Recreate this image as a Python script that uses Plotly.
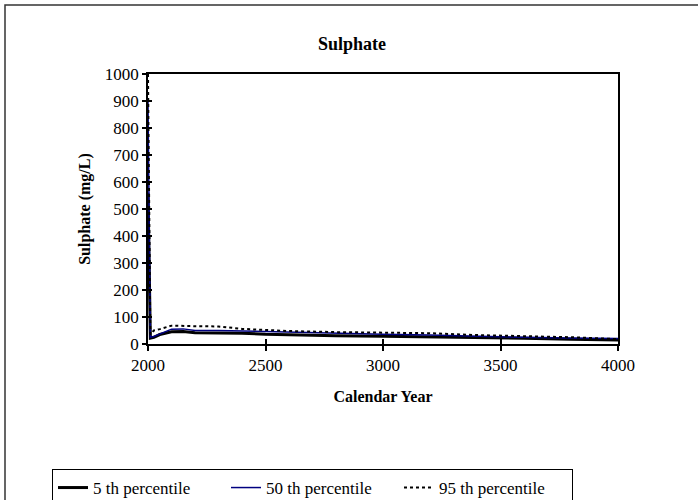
import plotly.graph_objects as go

# Simulated sulphate concentration percentiles over time
years = [2000, 2010, 2025, 2050, 2100, 2150, 2200, 2300, 2400, 2500,
         2600, 2800, 3000, 3200, 3400, 3600, 3800, 4000]
p5 = [560, 22, 25, 35, 45, 46, 42, 41, 40, 36,
      34, 31, 29, 27, 24, 21, 18, 15]
p50 = [900, 25, 28, 38, 55, 56, 50, 50, 48, 45,
       42, 40, 36, 33, 28, 25, 22, 20]
p95 = [1000, 35, 50, 55, 68, 68, 66, 65, 56, 52,
       48, 44, 42, 40, 33, 30, 25, 18]

series_names = ["5 th percentile", "50 th percentile", "95 th percentile"]
x_ticks = [2000, 2500, 3000, 3500, 4000]
y_ticks = list(range(0, 1001, 100))

FONT = "Liberation Serif"
W, H = 698, 500
L, R, T, B = 148, 80, 74, 156
PW, PH = W - L - R, H - T - B


def px_to_paper_x(px):
    return (px - L) / PW


def px_to_paper_y(py):
    return (H - B - py) / PH


fig = go.Figure()
fig.add_trace(go.Scatter(x=years, y=p5, mode="lines", name=series_names[0],
                         line=dict(color="black", width=3)))
fig.add_trace(go.Scatter(x=years, y=p50, mode="lines", name=series_names[1],
                         line=dict(color="#000080", width=1.5)))
fig.add_trace(go.Scatter(x=years, y=p95, mode="lines", name=series_names[2],
                         line=dict(color="black", width=2, dash="3px,3px")))

fig.update_layout(
    width=W, height=H,
    margin=dict(l=L, r=R, t=T, b=B, autoexpand=False),
    paper_bgcolor="white", plot_bgcolor="white",
    font=dict(family=FONT, color="black", size=17),
    title=dict(text="<b>Sulphate</b>", x=px_to_paper_x(352), xref="paper",
               xanchor="center", y=1 - 44 / H, yanchor="middle",
               font=dict(family=FONT, size=18, color="black")),
    xaxis=dict(range=[2000, 4000], tickvals=x_ticks, ticks="outside",
               ticklen=5, tickwidth=1.5, tickcolor="black",
               showline=True, linecolor="black", linewidth=2, mirror=True,
               showgrid=False, zeroline=False,
               tickfont=dict(size=17),
               title=dict(text="<b>Calendar Year</b>", standoff=16,
                          font=dict(size=16))),
    yaxis=dict(range=[0, 1000], tickvals=y_ticks, ticks="outside",
               ticklen=4, tickwidth=1.5, tickcolor="black",
               showline=True, linecolor="black", linewidth=1.5, mirror=True,
               showgrid=False, zeroline=False,
               tickfont=dict(size=17),
               title=dict(text="<b>Sulphate (mg/L)</b>", standoff=10,
                          font=dict(size=16))),
    # inside half of the crossing tick marks
    xaxis2=dict(overlaying="x", range=[2000, 4000], tickvals=x_ticks,
                ticks="inside", ticklen=5, tickwidth=1.5, tickcolor="black",
                showticklabels=False, showgrid=False, zeroline=False,
                showline=False),
    yaxis2=dict(overlaying="y", range=[0, 1000], tickvals=y_ticks,
                ticks="inside", ticklen=4, tickwidth=1.5, tickcolor="black",
                showticklabels=False, showgrid=False, zeroline=False,
                showline=False),
    showlegend=True,
    legend=dict(orientation="h", xref="paper", yref="paper",
                x=px_to_paper_x(52), xanchor="left",
                y=px_to_paper_y(469), yanchor="top",
                bordercolor="black", borderwidth=1, bgcolor="white",
                entrywidth=128, entrywidthmode="pixels",
                font=dict(family=FONT, size=17, color="black")),
    shapes=[dict(type="rect", xref="paper", yref="paper",
                 x0=px_to_paper_x(5), x1=px_to_paper_x(705),
                 y0=px_to_paper_y(510), y1=px_to_paper_y(5),
                 line=dict(color="#333333", width=1.5), layer="below")],
)

# invisible carrier trace so the overlay axes are drawn
fig.add_trace(go.Scatter(x=[2000], y=[0], xaxis="x2", yaxis="y2",
                         mode="markers", marker=dict(opacity=0),
                         showlegend=False, hoverinfo="skip"))

fig.write_html("out.html")
